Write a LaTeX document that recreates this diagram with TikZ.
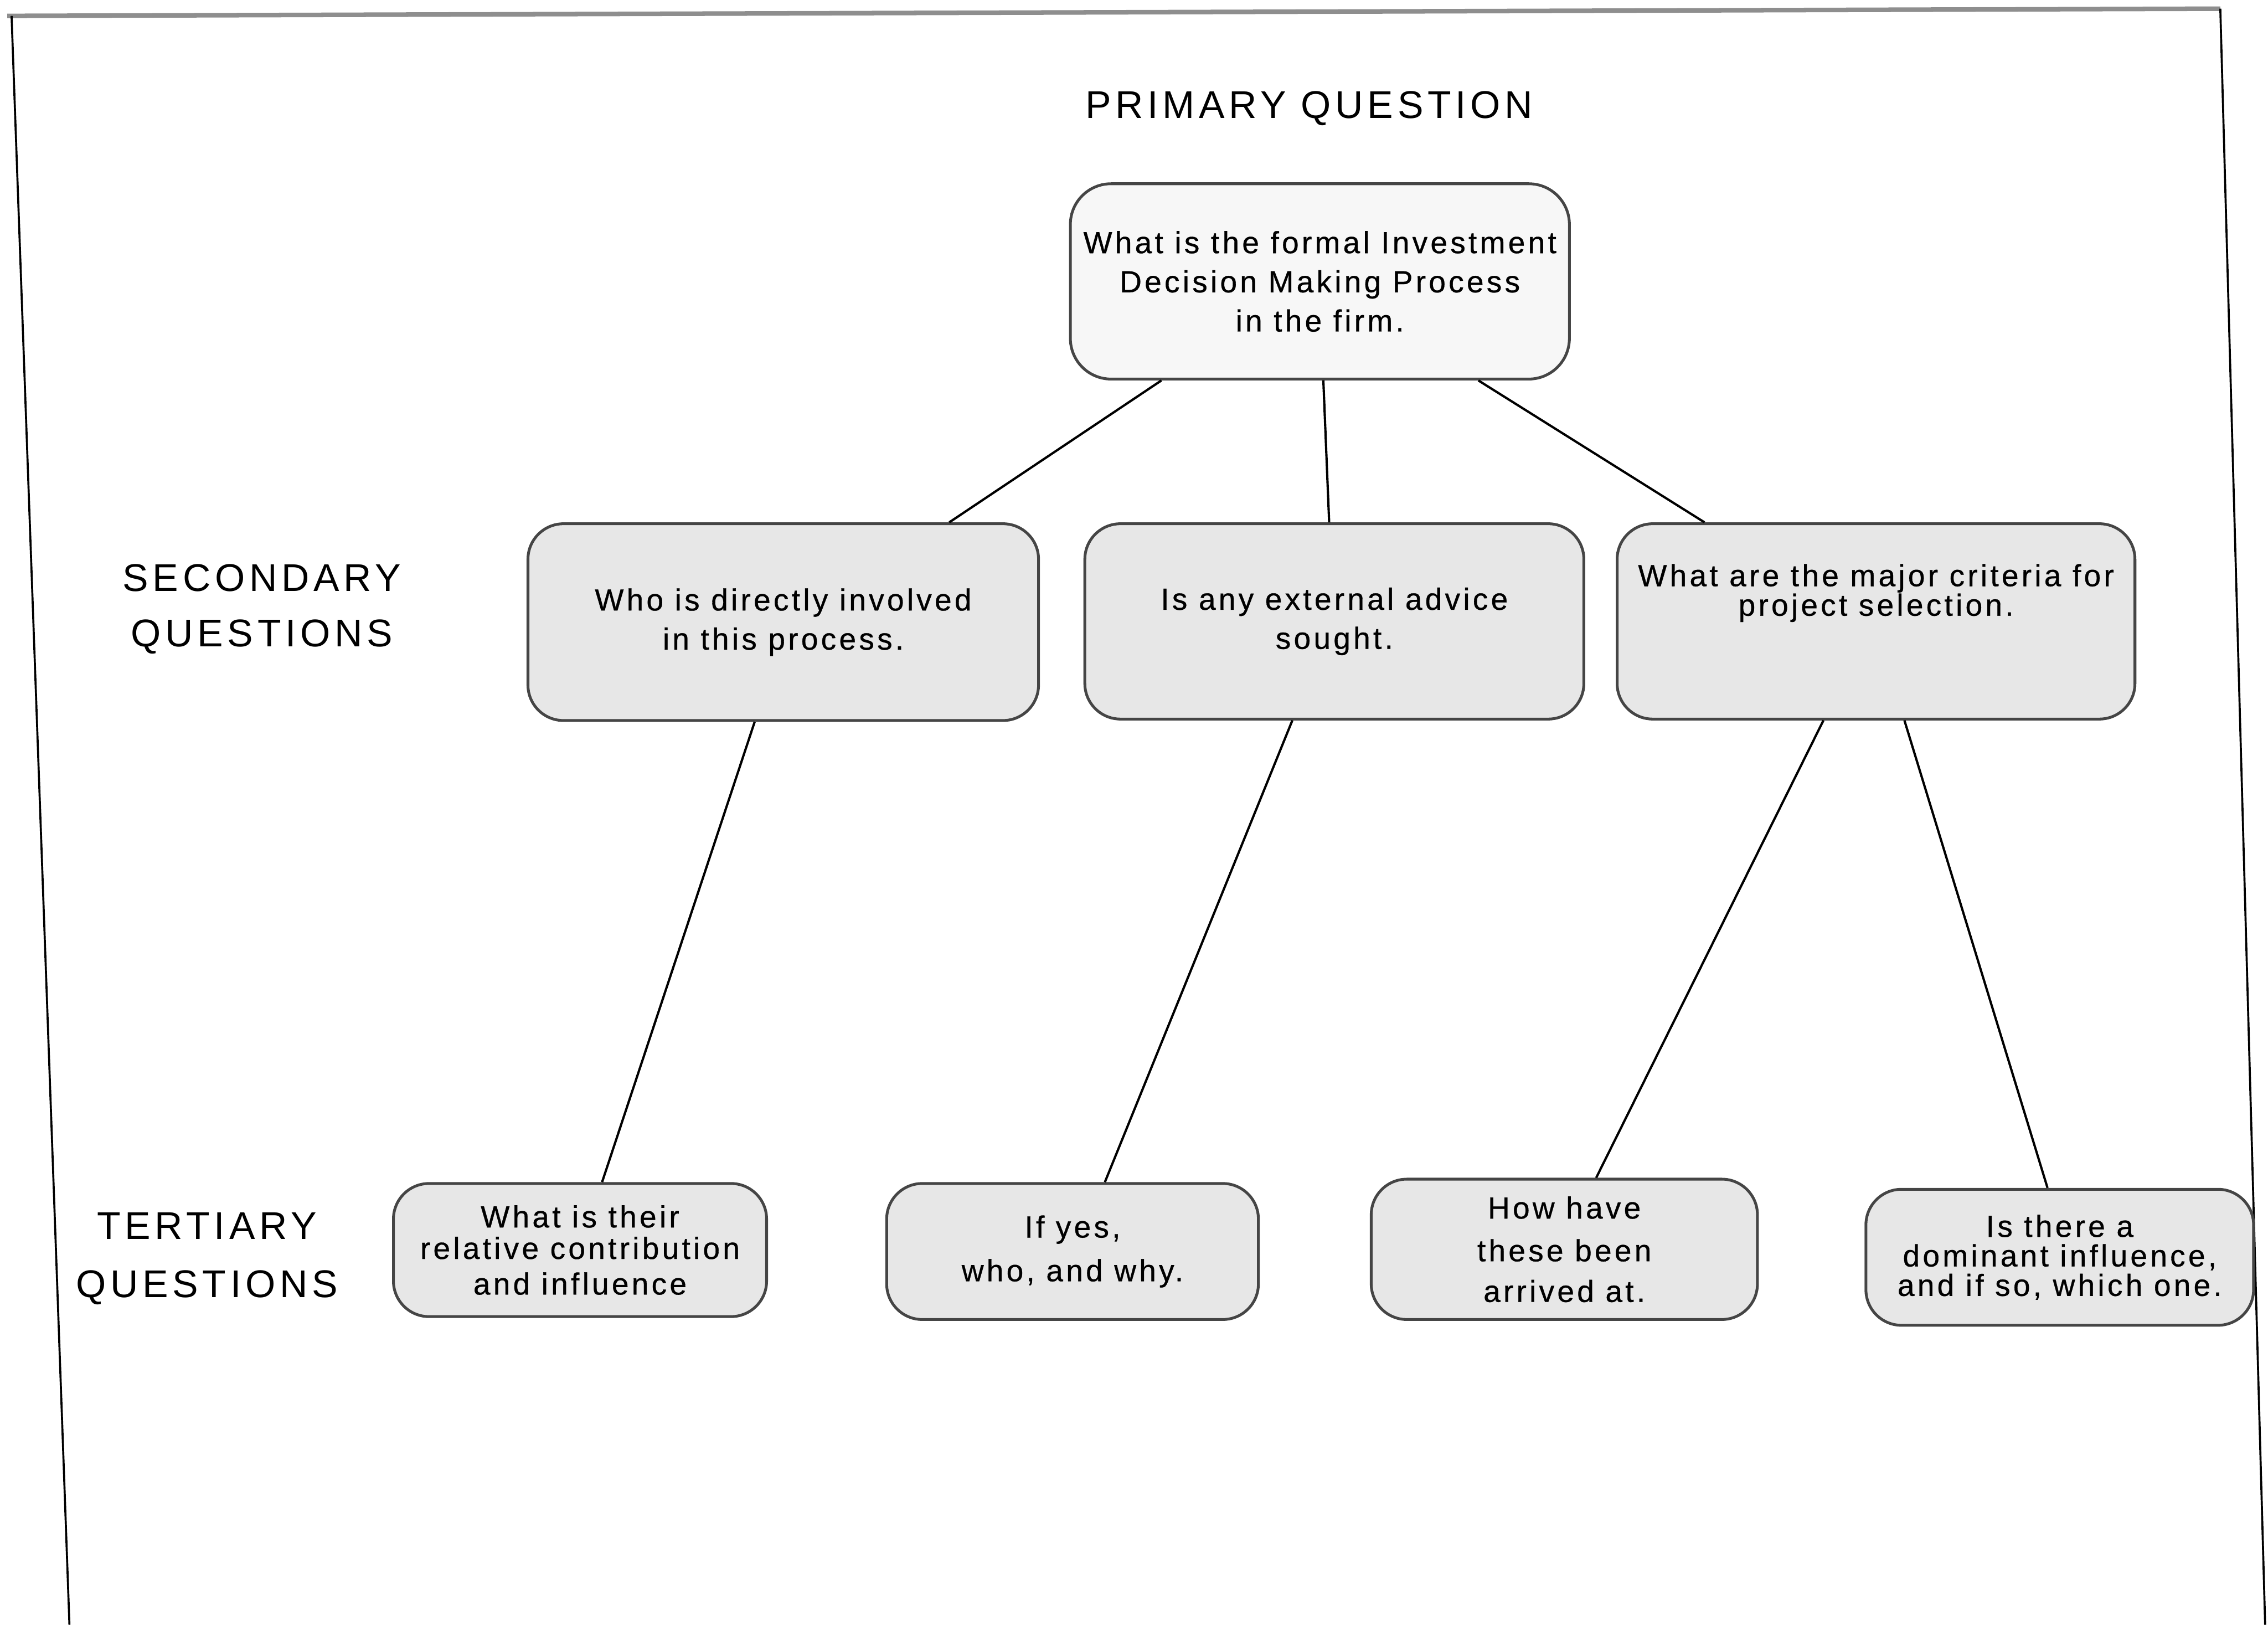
\documentclass[tikz,border=0pt]{standalone}
\usepackage{fontspec}
\setmainfont{Liberation Sans}
\newfontfamily\boxfont[LetterSpace=9.5, FakeBold=0.6]{Liberation Sans}
\newfontfamily\levelfont[LetterSpace=11]{Liberation Sans}
\definecolor{framegray}{HTML}{8E8E8E}
\definecolor{boxline}{HTML}{454545}
\definecolor{stipple}{HTML}{E7E7E7}
\definecolor{paleshade}{HTML}{F7F7F7}

\tikzset{
  qbox/.style={draw=boxline, line width=0.55pt, rounded corners=7pt, fill=stipple,
    align=center, inner sep=1pt, font=\boxfont\fontsize{6}{7.4}\selectfont},
  rootbox/.style={qbox, fill=paleshade, rounded corners=8pt},
  tierlabel/.style={align=center, font=\levelfont\fontsize{7.6}{10.8}\selectfont},
  link/.style={black, line width=0.45pt}
}

\begin{document}
\begin{tikzpicture}
\useasboundingbox (0,0) rectangle (15.68,-11.23);

% Page edges
\draw[framegray, line width=0.9pt] (0.05,-0.11) -- (15.35,-0.06);
\draw[black, line width=0.4pt] (0.08,-0.11) -- (0.48,-11.23);
\draw[black, line width=0.4pt] (15.35,-0.06) -- (15.66,-11.23);

% Level captions
\node[tierlabel] (primlbl) at (9.05,-0.75) {PRIMARY QUESTION};
\node[tierlabel] (seclbl) at (1.81,-4.21) {SECONDARY\\QUESTIONS};
\node[tierlabel, font=\levelfont\fontsize{7.6}{11.4}\selectfont] (terlbl) at (1.43,-8.70) {TERTIARY\\QUESTIONS};

% Primary question
\node[rootbox, minimum width=3.45cm, minimum height=1.35cm] (formal) at (9.125,-1.945)
  {What is the formal Investment\\[0.3pt] Decision Making Process\\[0.3pt] in the firm.};

% Secondary questions
\node[qbox, minimum width=3.53cm, minimum height=1.36cm] (involved) at (5.415,-4.30)
  {Who is directly involved\\[0.3pt] in this process.};
\node[qbox, minimum width=3.45cm, minimum height=1.35cm] (advice) at (9.225,-4.295)
  {Is any external advice\\[0.3pt] sought.};
\node[qbox, minimum width=3.58cm, minimum height=1.35cm] (criteria) at (12.97,-4.295)
  {What are the major criteria for\\[-1.6pt] project selection.\\[5pt]\mbox{}};

% Tertiary questions
\node[qbox, minimum width=2.58cm, minimum height=0.92cm] (contrib) at (4.01,-8.64)
  {What is their\\[-1.2pt] relative contribution\\[-0.4pt] and influence};
\node[qbox, minimum width=2.57cm, minimum height=0.94cm] (whoyes) at (7.415,-8.65)
  {If yes,\\[1.2pt] who, and why.};
\node[qbox, minimum width=2.67cm, minimum height=0.97cm] (arrived) at (10.815,-8.635)
  {How have\\[1pt] these been\\[0.6pt] arrived at.};
\node[qbox, minimum width=2.68cm, minimum height=0.94cm] (dominant) at (14.24,-8.69)
  {Is there a\\[-1.6pt] dominant influence,\\[-1.6pt] and if so, which one.};

% Connectors
\draw[link] (formal.-148.35) -- (involved.31.6);
\draw[link] (formal.-88.7) -- (advice.93.8);
\draw[link] (formal.-32.1) -- (criteria.150);
\draw[link] (involved.-106.8) -- (contrib.72);
\draw[link] (advice.-113.6) -- (whoyes.65.4);
\draw[link] (criteria.-118.1) -- (arrived.66.1);
\draw[link] (criteria.-74.3) -- (dominant.100.8);

\end{tikzpicture}
\end{document}
